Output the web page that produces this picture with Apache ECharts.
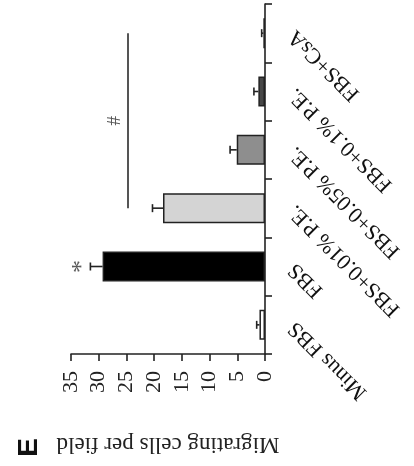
<!DOCTYPE html>
<html>
<head>
<meta charset="utf-8">
<script src="https://cdn.jsdelivr.net/npm/echarts@6/dist/echarts.min.js"></script>
<style>
html,body{margin:0;padding:0;background:#fff;}
#chart{width:414px;height:466px;}
</style>
</head>
<body>
<div id="chart"></div>
<script>
// ---- data ----
const categories = ['Minus FBS', 'FBS', 'FBS+0.01% P.E.', 'FBS+0.05% P.E.', 'FBS+0.1% P.E.', 'FBS+CsA'];
const meanValues = [1.0, 29.3, 18.4, 5.1, 1.2, 0.3];
const errValues = [0.5, 2.2, 1.9, 1.2, 0.8, 0.3];
const barColors = ['#ffffff', '#000000', '#d4d4d4', '#8e8e8e', '#474747', '#111111'];
const valueTicks = { min: 0, max: 35, interval: 5 };
const sigLineValue = 24.7;
const sigFrom = 'FBS+0.01% P.E.';
const sigTo = 'FBS+CsA';
const starValue = 33.0;
const starCategory = 1;
const axisTitle = 'Migrating cells per field';
const panelLabel = 'E';

const serif = '"Liberation Serif", "Times New Roman", serif';
const chart = echarts.init(document.getElementById('chart'), null, { renderer: 'canvas' });

const errData = meanValues.map((v, i) => [v + errValues[i], i, v]);

const option = {
  animation: false,
  backgroundColor: '#ffffff',
  grid: { left: 71, right: 149, top: 4, bottom: 112, containLabel: false },
  xAxis: {
    type: 'value',
    inverse: true,
    position: 'bottom',
    min: valueTicks.min, max: valueTicks.max, interval: valueTicks.interval,
    axisLine: { show: true, lineStyle: { color: '#222', width: 1.6 } },
    axisTick: { show: true, length: 7, lineStyle: { color: '#222', width: 1.6 } },
    splitLine: { show: false },
    axisLabel: { rotate: 90, margin: 17, fontFamily: serif, fontSize: 22, color: '#222' },
    name: axisTitle,
    nameLocation: 'middle',
    nameGap: 79,
    nameRotate: 180,
    nameTextStyle: { fontFamily: serif, fontSize: 23, color: '#222' }
  },
  yAxis: {
    type: 'category',
    position: 'right',
    data: categories,
    boundaryGap: true,
    axisLine: { show: true, lineStyle: { color: '#222', width: 1.6 } },
    axisTick: { show: true, length: 7, alignWithLabel: false, lineStyle: { color: '#222', width: 1.6 } },
    splitLine: { show: false },
    axisLabel: { rotate: 135, margin: 27, fontFamily: serif, fontSize: 22, color: '#111', interval: 0 }
  },
  series: [
    {
      type: 'bar',
      barWidth: 30,
      data: meanValues.map((v, i) => ({
        value: v,
        itemStyle: { color: barColors[i], borderColor: '#222', borderWidth: 1.5 }
      })),
      z: 2,
      markLine: {
        silent: true,
        symbol: 'none',
        lineStyle: { color: '#555', width: 2, type: 'solid' },
        label: { show: true, position: 'middle', formatter: '#', fontFamily: serif, fontSize: 19, color: '#555', distance: 4 },
        data: [[{ coord: [sigLineValue, sigFrom] }, { coord: [sigLineValue, sigTo] }]]
      }
    },
    {
      type: 'custom',
      z: 3,
      data: errData,
      encode: { x: [0, 2], y: 1 },
      renderItem: function (params, api) {
        const top = api.value(0);
        const cat = api.value(1);
        const v = api.value(2);
        const p0 = api.coord([v, cat]);
        const p1 = api.coord([top, cat]);
        const h = 8;
        return {
          type: 'group',
          children: [
            { type: 'line', shape: { x1: p0[0], y1: p0[1], x2: p1[0], y2: p1[1] }, style: { stroke: '#222', lineWidth: 1.6 } },
            { type: 'line', shape: { x1: p1[0], y1: p1[1] - h / 2, x2: p1[0], y2: p1[1] + h / 2 }, style: { stroke: '#222', lineWidth: 1.6 } }
          ]
        };
      }
    },
    {
      type: 'scatter',
      symbolSize: 0,
      data: [[starValue, starCategory]],
      label: { show: true, position: 'inside', formatter: '*', rotate: 90, fontFamily: serif, fontSize: 26, color: '#333' },
      z: 4
    }
  ],
  graphic: [
    {
      type: 'text',
      left: 15,
      top: 438,
      rotation: Math.PI / 2,
      style: { text: panelLabel, font: 'bold 28px "Liberation Sans", Arial, sans-serif', fill: '#111' }
    }
  ]
};
chart.setOption(option);
</script>
</body>
</html>
